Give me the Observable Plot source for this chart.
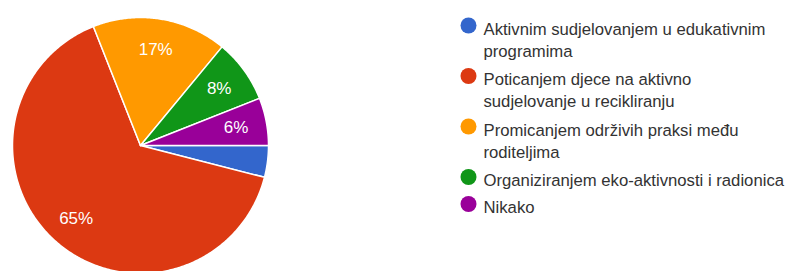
<!DOCTYPE html>
<html><head><meta charset="utf-8">
<script src="https://cdn.jsdelivr.net/npm/d3@7"></script>
<script src="https://cdn.jsdelivr.net/npm/@observablehq/plot@0.6"></script>
<style>body{margin:0;background:#fff;} #chart svg{display:block;}</style>
</head><body><div id="chart"></div>
<script>
// Data
const categories = [
  "Aktivnim sudjelovanjem u edukativnim\nprogramima",
  "Poticanjem djece na aktivno\nsudjelovanje u recikliranju",
  "Promicanjem održivih praksi među\nroditeljima",
  "Organiziranjem eko-aktivnosti i radionica",
  "Nikako"
];
const values = [4, 65, 17, 8, 6];
const colors = ["#3366cc", "#dc3912", "#ff9900", "#109618", "#990099"];

// Layout
const W = 795, H = 271;
const cx = 140, cy = 145, R = 128, labelR = 0.76 * R;
const legX = 468, legTextX = 483, legY0 = 25, rowStep = 27, extraLine = 23.5;
const font = "Liberation Sans, Arial, sans-serif";

const arcs = d3.pie().sort(null).value(d => d)
  .startAngle(Math.PI / 2).endAngle(Math.PI / 2 + 2 * Math.PI)(values);

const polys = [];
arcs.forEach((s, i) => {
  const span = s.endAngle - s.startAngle;
  const n = Math.max(2, Math.ceil(span / 0.01));
  polys.push({k: i, x: cx, y: cy});
  for (let j = 0; j <= n; j++) {
    const a = s.startAngle + span * j / n;
    polys.push({k: i, x: cx + R * Math.sin(a), y: cy - R * Math.cos(a)});
  }
});

const labels = arcs.filter(s => s.data >= 5).map(s => {
  const m = (s.startAngle + s.endAngle) / 2;
  return {x: cx + labelR * Math.sin(m), y: cy - labelR * Math.cos(m), t: s.data + "%"};
});

let extra = 0;
const legend = categories.map((c, i) => {
  const y = legY0 + i * rowStep + extra * extraLine;
  extra += c.split("\n").length - 1;
  return {name: c, color: colors[i], y};
});

const chart = Plot.plot({
  width: W, height: H, margin: 0,
  x: {domain: [0, W], range: [0, W], axis: null},
  y: {domain: [0, H], range: [0, H], axis: null},
  style: {fontFamily: font, background: "white"},
  marks: [
    Plot.line(polys, {x: "x", y: "y", z: "k", fill: d => colors[d.k], stroke: "white", strokeWidth: 1.5, curve: "linear-closed"}),
    Plot.text(labels, {x: "x", y: "y", text: "t", fill: "white", fontSize: 17, textAnchor: "middle"}),
    Plot.dot(legend, {x: legX, y: "y", r: 8, fill: "color", stroke: null}),
    Plot.text(legend, {x: legTextX, y: "y", text: "name", textAnchor: "start", lineAnchor: "top", dy: -6.5, lineHeight: 1.32, fontSize: 16.7, fill: "#333"})
  ]
});
document.getElementById("chart").append(chart);
</script>
</body></html>
